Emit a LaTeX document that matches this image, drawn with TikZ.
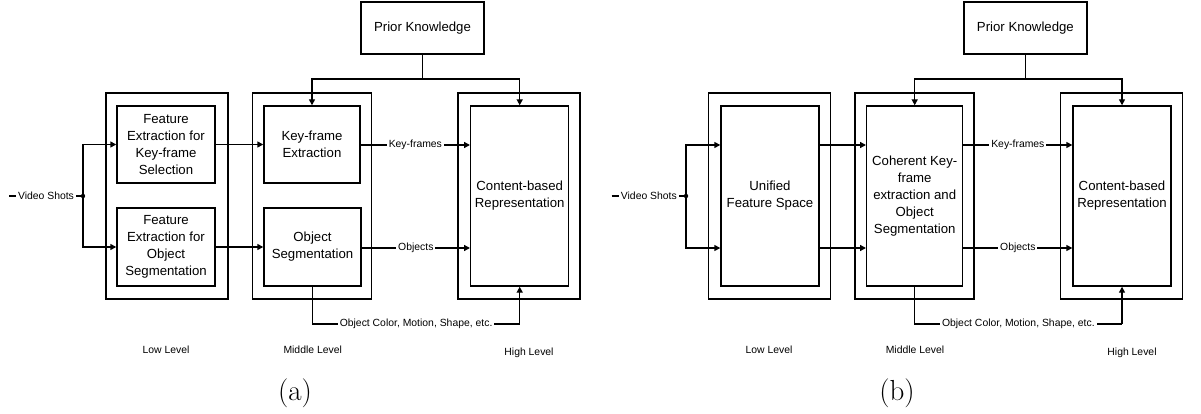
\documentclass[tikz,border=0pt]{standalone}
\usepackage{fontspec}
\newfontfamily\arialfam{Liberation Sans}
\usetikzlibrary{arrows.meta}
\newcommand{\boxfont}{\arialfam\fontsize{13.2}{17}\selectfont}
\newcommand{\lblfont}{\arialfam\fontsize{10.4}{12}\selectfont}
\begin{document}
\begin{tikzpicture}[x=1pt,y=-1pt,
  box/.style={draw, line width=1.4pt, align=center, font=\boxfont, inner sep=0pt},
  arr/.style={-{Triangle[length=6pt,width=6pt]}, line width=1.4pt},
  wire/.style={line width=1.4pt},
  lbl/.style={fill=white, font=\lblfont, inner sep=2pt},
  level/.style={font=\lblfont},
  subcap/.style={font=\fontsize{29}{34}\selectfont}]
\useasboundingbox (0,0) rectangle (1201,414);

% ---------------- panel (a) ----------------
\node[box, minimum width=122pt, minimum height=206pt] (lowA) at (167,196) {};
\node[box, minimum width=98pt, minimum height=77pt] (fe1) at (166,144.5)
  {Feature\\Extraction for\\Key-frame\\Selection};
\node[box, minimum width=98pt, minimum height=78pt] (fe2) at (166,247)
  {Feature\\Extraction for\\Object\\Segmentation};
\node[box, minimum width=119pt, minimum height=206pt] (midA) at (312.2,196) {};
\node[box, minimum width=96pt, minimum height=77pt] (kfe) at (312,144.5)
  {Key-frame\\Extraction};
\node[box, minimum width=97pt, minimum height=78pt] (seg) at (312.5,247)
  {Object\\Segmentation};
\node[box, minimum width=122pt, minimum height=206pt] (highA) at (519,196) {};
\node[box, minimum width=98pt, minimum height=180pt] (cbrA) at (519.7,196)
  {Content-based\\Representation};
\node[box, minimum width=123pt, minimum height=52pt] (pkA) at (422.5,28)
  {Prior Knowledge};

\coordinate (vsA) at (9,196);
\coordinate (splitA) at (83,196);
\draw[wire] (vsA) -- node[lbl] {Video Shots} (splitA);
\fill (splitA) circle (2.2pt);
\draw[arr] (splitA) |- (fe1.west);
\draw[arr] (splitA) |- (fe2.west);
\draw[arr] (fe1.east) -- (kfe.west |- fe1.east);
\draw[arr] (fe2.east) -- (seg.west |- fe2.east);
\coordinate (rowKA) at (0,145);
\coordinate (rowOA) at (0,248);
\draw[arr] (kfe.east |- rowKA) -- node[lbl] {Key-frames} (cbrA.west |- rowKA);
\draw[arr] (seg.east |- rowOA) -- node[lbl] {Objects} (cbrA.west |- rowOA);
\coordinate (pkjA) at (pkA.south |- 0,79);
\draw[wire] (pkA.south) -- (pkjA);
\draw[arr] (pkjA) -| (kfe.north);
\draw[arr] (pkjA) -| (cbrA.north);
\coordinate (botA1) at (seg.south |- 0,324);
\coordinate (botA2) at (cbrA.south |- 0,324);
\draw[wire] (seg.south) -- (botA1) -- node[lbl] {Object Color, Motion, Shape, etc.} (botA2);
\draw[arr] (botA2) -- (cbrA.south);

\node[level] (lowLabA) at (166,350) {Low Level};
\node[level] (midLabA) at (312.7,350) {Middle Level};
\node[level] (highLabA) at (529,353) {High Level};
\node[subcap] (capA) at (295,393) {(a)};

% ---------------- panel (b) ----------------
\node[box, minimum width=122pt, minimum height=206pt] (lowB) at (769.7,196) {};
\node[box, minimum width=98pt, minimum height=180pt] (ufs) at (770,196)
  {Unified\\Feature Space};
\node[box, minimum width=119pt, minimum height=206pt] (midB) at (914.5,196) {};
\node[box, minimum width=96pt, minimum height=180pt] (ckf) at (914.7,196)
  {Coherent Key-\\frame\\extraction and\\Object\\Segmentation};
\node[box, minimum width=122pt, minimum height=206pt] (highB) at (1121.7,196) {};
\node[box, minimum width=98pt, minimum height=180pt] (cbrB) at (1122,196)
  {Content-based\\Representation};
\node[box, minimum width=123pt, minimum height=52pt] (pkB) at (1025.4,28)
  {Prior Knowledge};

\coordinate (vsB) at (611.7,196);
\coordinate (splitB) at (686,196);
\coordinate (rowKB) at (0,145);
\coordinate (rowOB) at (0,248);
\draw[wire] (vsB) -- node[lbl] {Video Shots} (splitB);
\fill (splitB) circle (2.2pt);
\draw[arr] (splitB) |- (ufs.west |- rowKB);
\draw[arr] (splitB) |- (ufs.west |- rowOB);
\draw[arr] (ufs.east |- rowKB) -- (ckf.west |- rowKB);
\draw[arr] (ufs.east |- rowOB) -- (ckf.west |- rowOB);
\draw[arr] (ckf.east |- rowKB) -- node[lbl] {Key-frames} (cbrB.west |- rowKB);
\draw[arr] (ckf.east |- rowOB) -- node[lbl] {Objects} (cbrB.west |- rowOB);
\coordinate (pkjB) at (pkB.south |- 0,79);
\draw[wire] (pkB.south) -- (pkjB);
\draw[arr] (pkjB) -| (ckf.north);
\draw[arr] (pkjB) -| (cbrB.north);
\coordinate (botB1) at (ckf.south |- 0,324);
\coordinate (botB2) at (cbrB.south |- 0,324);
\draw[wire] (ckf.south) -- (botB1) -- node[lbl] {Object Color, Motion, Shape, etc.} (botB2);
\draw[arr] (botB2) -- (cbrB.south);

\node[level] (lowLabB) at (769,350) {Low Level};
\node[level] (midLabB) at (915,350) {Middle Level};
\node[level] (highLabB) at (1132,353) {High Level};
\node[subcap] (capB) at (897,393) {(b)};
\end{tikzpicture}
\end{document}
